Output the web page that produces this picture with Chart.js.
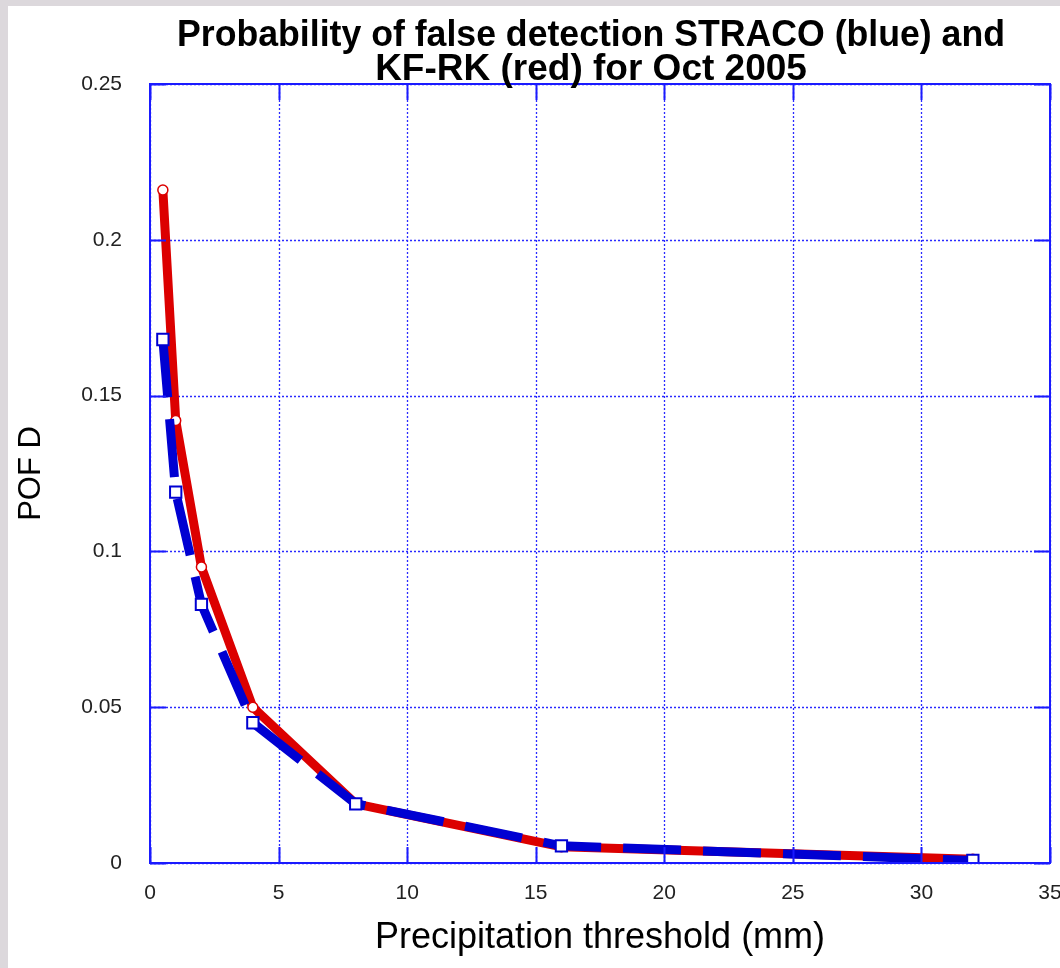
<!DOCTYPE html>
<html>
<head>
<meta charset="utf-8">
<script src="https://cdn.jsdelivr.net/npm/chart.js@4.4.0/dist/chart.umd.min.js"></script>
<style>
    html, body { margin: 0; padding: 0; background: #dcd8dc; }
    #wrap { position: relative; width: 1060px; height: 968px; }
</style>
</head>
<body>
<div id="wrap"><canvas id="pofdChart" width="1060" height="968"></canvas></div>
<script>
// data
const thresholds = [0.5, 1, 2, 4, 8, 16, 32];
const stracoPofd = [0.168, 0.119, 0.083, 0.045, 0.019, 0.0055, 0.0008];
const kfrkPofd = [0.216, 0.142, 0.095, 0.050, 0.019, 0.0052, 0.0012];

const xTickValues = [0, 5, 10, 15, 20, 25, 30, 35];
const xTickLabels = ['0', '5', '10', '15', '20', '25', '30', '35'];
const yTickValues = [0, 0.05, 0.1, 0.15, 0.2, 0.25];
const yTickLabels = ['0', '0.05', '0.1', '0.15', '0.2', '0.25'];

const titleLines = ['Probability of false detection STRACO (blue) and', 'KF-RK (red) for Oct 2005'];

const BLUE = '#0000d2';
const RED = '#dc0000';
const AXIS = '#1a1aff';
const FONT = "'Liberation Sans', Arial, Helvetica, sans-serif";

const toPoints = (xs, ys) => xs.map((x, i) => ({ x: x, y: ys[i] }));

// background, dotted grid, frame, inward ticks and title
const framePlugin = {
    id: 'frame',
    beforeDraw(chart) {
        const c = chart.ctx;
        c.save();
        c.fillStyle = '#dcd8dc';
        c.fillRect(0, 0, chart.width, chart.height);
        c.fillStyle = '#ffffff';
        c.fillRect(8, 6, chart.width - 8, chart.height - 6);
        c.restore();
    },
    beforeDatasetsDraw(chart) {
        const c = chart.ctx;
        const a = chart.chartArea;
        const xs = chart.scales.x;
        const ys = chart.scales.y;
        c.save();
        c.strokeStyle = '#2a2aff';
        c.lineWidth = 1.3;
        c.setLineDash([2, 2]);
        c.beginPath();
        xTickValues.forEach(v => {
            const px = Math.round(xs.getPixelForValue(v)) + 0.5;
            c.moveTo(px, a.top); c.lineTo(px, a.bottom);
        });
        yTickValues.forEach(v => {
            const py = Math.round(ys.getPixelForValue(v)) + 0.5;
            c.moveTo(a.left, py); c.lineTo(a.right, py);
        });
        c.stroke();
        c.restore();
    },
    afterDraw(chart) {
        const c = chart.ctx;
        const a = chart.chartArea;
        const xs = chart.scales.x;
        const ys = chart.scales.y;
        const tick = 16;
        c.save();
        c.strokeStyle = AXIS;
        c.lineWidth = 2;
        c.strokeRect(a.left, a.top, a.right - a.left, a.bottom - a.top);
        c.beginPath();
        xTickValues.forEach(v => {
            const px = Math.round(xs.getPixelForValue(v)) + 0.5;
            c.moveTo(px, a.bottom); c.lineTo(px, a.bottom - tick);
            c.moveTo(px, a.top); c.lineTo(px, a.top + tick);
        });
        yTickValues.forEach(v => {
            const py = Math.round(ys.getPixelForValue(v)) + 0.5;
            c.moveTo(a.left, py); c.lineTo(a.left + tick, py);
            c.moveTo(a.right, py); c.lineTo(a.right - tick, py);
        });
        c.stroke();

        c.fillStyle = '#000';
        c.textAlign = 'center';
        c.textBaseline = 'alphabetic';
        c.font = 'bold 37px ' + FONT;
        c.fillText(titleLines[0], 591, 46, 828);
        c.fillText(titleLines[1], 591, 80, 828);
        c.restore();
    }
};

new Chart(document.getElementById('pofdChart').getContext('2d'), {
    type: 'scatter',
    data: {
        datasets: [
            {
                label: 'STRACO',
                data: toPoints(thresholds, stracoPofd),
                showLine: true,
                borderColor: BLUE,
                borderWidth: 9,
                borderDash: [58, 22],
                borderCapStyle: 'butt',
                pointStyle: 'rect',
                pointRadius: 8,
                pointBorderWidth: 2,
                pointBorderColor: BLUE,
                pointBackgroundColor: '#ffffff',
                order: 0
            },
            {
                label: 'KF-RK',
                data: toPoints(thresholds, kfrkPofd),
                showLine: true,
                borderColor: RED,
                borderWidth: 9,
                pointStyle: 'circle',
                pointRadius: 5,
                pointBorderWidth: 1.5,
                pointBorderColor: RED,
                pointBackgroundColor: '#ffffff',
                order: 1
            }
        ]
    },
    options: {
        responsive: false,
        animation: false,
        layout: {
            padding: { top: 84, right: 10, left: 0, bottom: 0 }
        },
        plugins: {
            legend: { display: false },
            tooltip: { enabled: false }
        },
        scales: {
            x: {
                type: 'linear',
                min: 0,
                max: 35,
                afterBuildTicks: scale => { scale.ticks = xTickValues.map(v => ({ value: v })); },
                afterFit: scale => {
                    scale.height = 105;
                    scale.paddingLeft = 0;
                    scale.paddingRight = 0;
                },
                grid: { display: false, drawTicks: false },
                border: { display: false },
                ticks: {
                    padding: 18,
                    maxRotation: 0,
                    color: '#222',
                    font: { family: FONT, size: 21 },
                    callback: (v, i) => xTickLabels[i]
                },
                title: {
                    display: true,
                    text: 'Precipitation threshold (mm)',
                    color: '#000',
                    font: { family: FONT, size: 36 },
                    padding: { top: 0, bottom: 8 }
                }
            },
            y: {
                type: 'linear',
                min: 0,
                max: 0.25,
                afterBuildTicks: scale => { scale.ticks = yTickValues.map(v => ({ value: v })); },
                afterFit: scale => { scale.width = 150; },
                grid: { display: false, drawTicks: false },
                border: { display: false },
                ticks: {
                    padding: 28,
                    color: '#222',
                    font: { family: FONT, size: 21 },
                    callback: (v, i) => yTickLabels[i]
                },
                title: {
                    display: true,
                    text: 'POF D',
                    color: '#000',
                    font: { family: FONT, size: 31 },
                    padding: { top: 13, bottom: 0 }
                }
            }
        }
    },
    plugins: [framePlugin]
});
</script>
</body>
</html>
